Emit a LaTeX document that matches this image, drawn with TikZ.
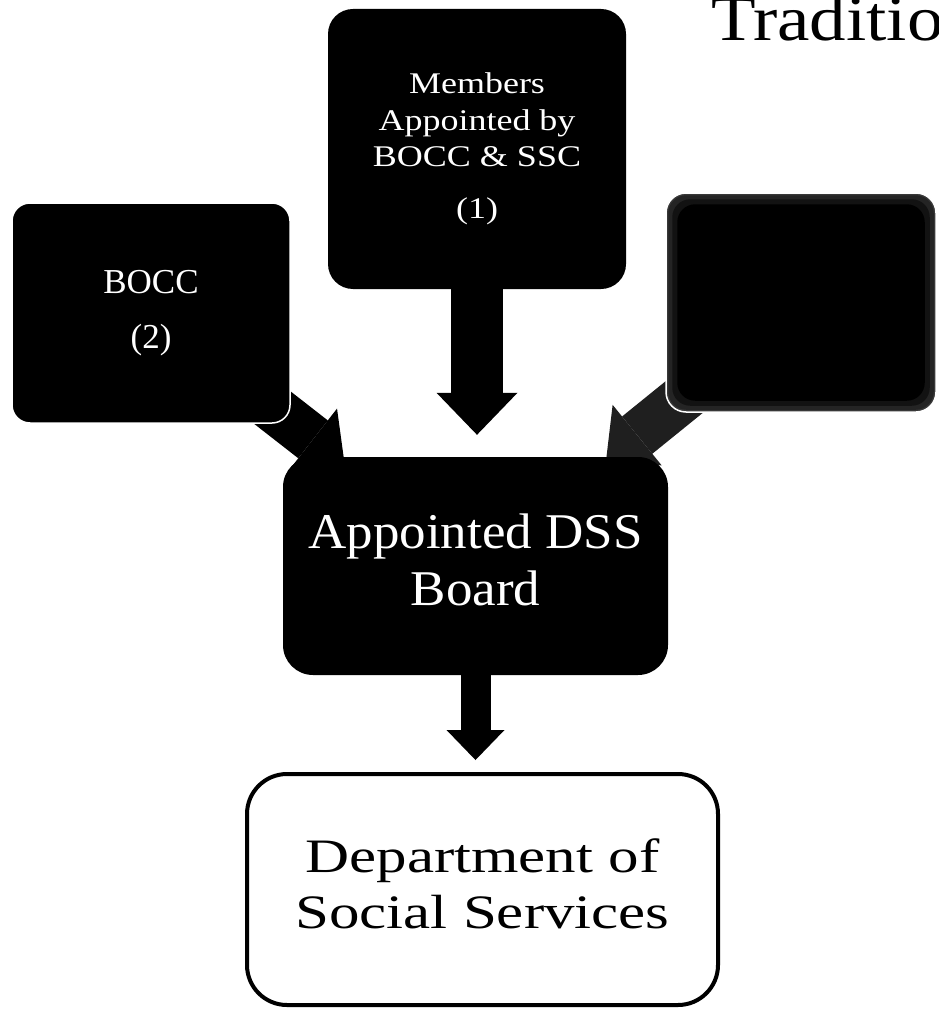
\documentclass[tikz,border=0pt]{standalone}
\usepackage{fontspec}
\setmainfont{Liberation Serif}
\usetikzlibrary{arrows.meta,calc}
\pgfdeclarelayer{bg}
\pgfsetlayers{bg,main}
\newcommand{\wtxt}[2]{\scalebox{#1}[1]{\begin{tabular}{@{}c@{}}#2\end{tabular}}}
\begin{document}
\begin{tikzpicture}[x=1pt,y=-1pt,
  darkbox/.style={rectangle, rounded corners=#1, fill=black, text=white, inner sep=0pt},
  whiteedge/.style={draw=white, line width=1.5pt},
  bigarrow/.style={line width=#1},
  glowlayer/.style={fill=#1, rounded corners=18pt},
  tipA/.style={-{Triangle[length=42pt,width=81pt,line width=0pt]}},
  tipB/.style={-{Triangle[length=40pt,width=78pt,line width=0pt]}},
  tipC/.style={-{Triangle[length=30pt,width=58pt,line width=0pt]}}]
\useasboundingbox (0,0) rectangle (938,1011);

% title (cut at the right edge, as in the reference)
\begin{scope}
\clip (0,0) rectangle (938,1011);
\node[anchor=base west, inner sep=0pt, font=\fontsize{64}{64}\selectfont] (title) at (711,41) {\scalebox{1.14}[1]{Traditio}};
\end{scope}

% boxes
\node[darkbox=25pt, minimum width=298pt, minimum height=280pt] (m) at (477,149)
  {\fontsize{30}{36.5}\selectfont\wtxt{1.2}{Members\\Appointed by\\BOCC \& SSC\\[15.5pt](1)}};
\node[darkbox=18pt, whiteedge, minimum width=278pt, minimum height=220pt] (b) at (151,313)
  {\fontsize{35}{42}\selectfont\wtxt{1.0}{BOCC\\[13pt](2)}};
\node[rectangle, rounded corners=20pt, fill=black!78, whiteedge, minimum width=270pt, minimum height=219pt] (r) at (801,302.5) {};
\fill[glowlayer=black!86] ($(r.south west)+(3,-3)$) rectangle ($(r.north east)+(-3,3)$);
\fill[glowlayer=black!93] ($(r.south west)+(7,-7)$) rectangle ($(r.north east)+(-7,7)$);
\fill[glowlayer=black] ($(r.south west)+(12,-12)$) rectangle ($(r.north east)+(-12,12)$);
\node[darkbox=30pt, minimum width=385pt, minimum height=218pt] (s) at (475.5,566)
  {\fontsize{50}{57}\selectfont\wtxt{1.06}{Appointed DSS\\Board}};
\node[rectangle, rounded corners=40pt, draw=black, line width=4pt, fill=white, inner sep=0pt, minimum width=471pt, minimum height=231pt] (d) at (482.5,889.5)
  {\fontsize{48}{56}\selectfont\wtxt{1.27}{Department of\\Social Services}};

% block arrows, under the boxes
\begin{pgfonlayer}{bg}
\draw[bigarrow=52pt, tipA, shorten >=22pt] (m.center) -- (m.center |- s.north);
\draw[bigarrow=48pt, tipB, shorten >=166pt] (b.center) -- (s.center);
\draw[bigarrow=48pt, tipB, draw=black!88, shorten >=168pt] (r.center) -- (s.center);
\draw[bigarrow=30pt, tipC, shorten >=12pt] (s.center) -- (s.center |- d.north);
\end{pgfonlayer}
\end{tikzpicture}
\end{document}
